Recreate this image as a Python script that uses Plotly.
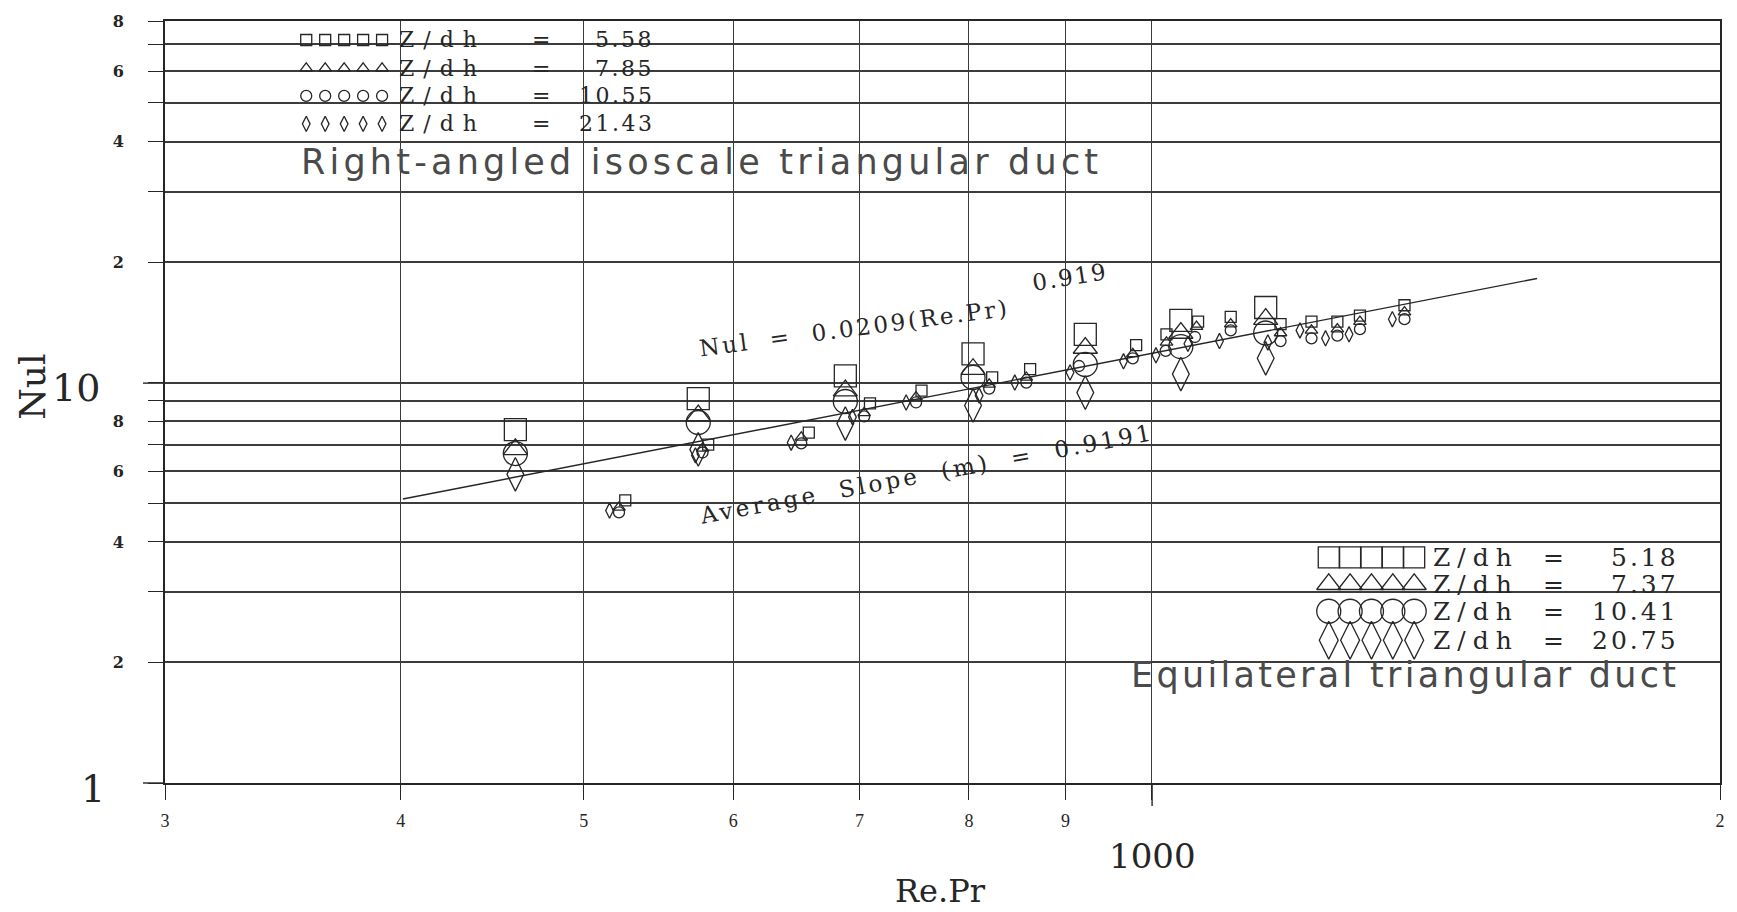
import numpy as np
import plotly.graph_objects as go

# ---------------- data ----------------
# Equilateral triangular duct (large markers)
eq_x = [460, 575, 688, 804, 922, 1036, 1149]
eq_nu_518 = [7.63, 9.12, 10.4, 11.8, 13.2, 14.3, 15.4]     # Z/dh = 5.18
eq_nu_737 = [6.81, 8.27, 9.55, 10.8, 12.2, 13.3, 14.4]     # Z/dh = 7.37
eq_nu_1041 = [6.65, 7.95, 8.97, 10.3, 11.1, 12.3, 13.3]    # Z/dh = 10.41
eq_nu_2075 = [5.90, 6.81, 7.90, 8.77, 9.44, 10.5, 11.5]    # Z/dh = 20.75

# Right-angled isosceles triangular duct (small markers)
ra_x_558 = [526, 582, 658, 709, 755, 823, 862, 981, 1018, 1058, 1101, 1170, 1215, 1254, 1289, 1361]
ra_nu_558 = [5.08, 7.0, 7.5, 8.87, 9.55, 10.3, 10.8, 12.4, 13.2, 14.2, 14.6, 14.0, 14.2, 14.2, 14.7, 15.6]
ra_x_785 = [522, 578, 652, 704, 750, 820, 858, 977, 1018, 1056, 1101, 1170, 1215, 1254, 1289, 1361]
ra_nu_785 = [4.88, 6.85, 7.3, 8.4, 9.2, 9.9, 10.3, 11.8, 12.6, 13.8, 14.0, 13.3, 13.5, 13.6, 14.2, 15.0]
ra_x_1055 = [522, 578, 652, 704, 750, 820, 858, 915, 977, 1017, 1054, 1101, 1170, 1215, 1254, 1289, 1361]
ra_nu_1055 = [4.74, 6.69, 7.05, 8.23, 8.92, 9.66, 10.0, 11.0, 11.5, 12.0, 13.0, 13.5, 12.7, 12.9, 13.1, 13.6, 14.4]
ra_x_2143 = [516, 573, 644, 694, 741, 810, 846, 905, 966, 1005, 1045, 1086, 1152, 1198, 1236, 1272, 1341]
ra_nu_2143 = [4.79, 6.58, 7.08, 8.2, 8.92, 9.28, 10.0, 10.6, 11.3, 11.7, 12.5, 12.7, 12.6, 13.5, 12.9, 13.2, 14.4]

# correlation line  Nul = 0.0209 (Re.Pr)^0.919  (end points)
fit_x = [401, 1600]
fit_nu = [5.12, 18.2]

# axis ticks
x_tickvals = [300, 400, 500, 600, 700, 800, 900, 1000, 2000]
x_ticktext = ["3", "4", "5", "6", "7", "8", "9", "", "2"]
y_tickvals = [1, 2, 3, 4, 5, 6, 7, 8, 9, 10, 20, 30, 40, 50, 60, 70, 80]
y_ticktext = ["", "2", "", "4", "", "6", "", "8", "", "", "2", "", "4", "", "6", "", "8"]

ra_labels = ["5.58", "7.85", "10.55", "21.43"]
eq_labels = ["5.18", "7.37", "10.41", "20.75"]

# ---------------- layout helpers ----------------
W_PAGE, H_PAGE = 1737, 912
L, R, T, B = 165, 14, 20, 129
PW = W_PAGE - L - R
PH = H_PAGE - T - B


def px(x):
    return x - L


def py(y):
    return (H_PAGE - B) - y


def fx(x):  # page pixel -> paper fraction
    return (x - L) / PW


def fy(y):
    return ((H_PAGE - B) - y) / PH


INK = "#262626"
GRID = "#3c3c3c"
SERIF = "DejaVu Serif"
PLOTTER = "DejaVu Sans"

symbols = ["square-open", "triangle-up-open", "circle-open", "diamond-tall-open"]
big_sizes = [22, 21, 24, 24]
small_sizes = [11, 11, 11, 11]


def mk(symbol, size):
    return dict(symbol=symbol, size=size, color=INK, line=dict(color=INK, width=1.3))


fig = go.Figure()

# fit line
fig.add_trace(go.Scatter(x=fit_x, y=fit_nu, mode="lines",
                         line=dict(color=INK, width=1.4), hoverinfo="skip"))

# equilateral (large)
for ys, sym, sz, lab in zip([eq_nu_518, eq_nu_737, eq_nu_1041, eq_nu_2075],
                            symbols, big_sizes, eq_labels):
    fig.add_trace(go.Scatter(x=eq_x, y=ys, mode="markers", marker=mk(sym, sz),
                             name="Equilateral Z/dh = " + lab, cliponaxis=False))

# right-angled (small)
for xs, ys, sym, sz, lab in zip([ra_x_558, ra_x_785, ra_x_1055, ra_x_2143],
                                [ra_nu_558, ra_nu_785, ra_nu_1055, ra_nu_2143],
                                symbols, small_sizes, ra_labels):
    fig.add_trace(go.Scatter(x=xs, y=ys, mode="markers", marker=mk(sym, sz),
                             name="Right-angled Z/dh = " + lab, cliponaxis=False))

# ---- legend symbol rows (pixel overlay axes) ----
leg1_rows = [39, 67.5, 95, 123]
leg1_x = [306.5 + 19.0 * i for i in range(5)]
for row_y, sym, sz in zip(leg1_rows, symbols, small_sizes):
    fig.add_trace(go.Scatter(x=[px(v) for v in leg1_x], y=[py(row_y)] * 5,
                             xaxis="x2", yaxis="y2", mode="markers",
                             marker=mk(sym, sz), hoverinfo="skip", cliponaxis=False))

leg2_rows = [557, 584, 611, 640]
leg2_x = [1331 + 21.4 * i for i in range(5)]
for row_y, sym, sz in zip(leg2_rows, symbols, [21, 21, 24, 27]):
    fig.add_trace(go.Scatter(x=[px(v) for v in leg2_x], y=[py(row_y)] * 5,
                             xaxis="x2", yaxis="y2", mode="markers",
                             marker=mk(sym, sz), hoverinfo="skip", cliponaxis=False))

annotations = []


def ann(text, x, y, size, family=SERIF, xanchor="center", yanchor="middle",
        angle=0, color=INK, spacing=0):
    if spacing:
        text = '<span style="letter-spacing:%.1fpx">%s</span>' % (spacing, text)
    annotations.append(dict(text=text, x=fx(x), y=fy(y), xref="paper", yref="paper",
                            xanchor=xanchor, yanchor=yanchor, showarrow=False,
                            textangle=angle,
                            font=dict(family=family, size=size, color=color)))


# legend 1 texts
for row_y, lab in zip(leg1_rows, ra_labels):
    ann("Z/dh", 397, row_y, 22, xanchor="left", spacing=9)
    ann("=", 542, row_y, 22)
    ann(lab, 657, row_y, 22, xanchor="right", spacing=2.5)
ann("Right-angled isoscale triangular duct", 299, 161, 35,
    family=PLOTTER, xanchor="left", color="#4a4a4a", spacing=4.2)

# legend 2 texts
for row_y, lab in zip(leg2_rows, eq_labels):
    ann("Z/dh", 1433, row_y, 25, xanchor="left", spacing=7)
    ann("=", 1556, row_y, 25)
    ann(lab, 1684, row_y, 25, xanchor="right", spacing=3)
ann("Equilateral triangular duct", 1684, 675, 35,
    family=PLOTTER, xanchor="right", color="#4a4a4a", spacing=3.3)

# equation texts
ann("Nul  =  0.0209(Re.Pr)", 856, 327, 23, angle=-7.5, spacing=2.8)
ann("0.919", 1072, 276, 23, angle=-9, spacing=2)
ann("Average  Slope  (m)  =  0.9191", 928, 474, 23, angle=-10.5, spacing=3.4)

# big axis labels
ann("10", 76, 387, 38)
ann("1", 93, 789, 38)
ann("1000", 1154, 856, 34)
ann("Nul", 32, 386, 36, angle=-90)
ann("Re.Pr", 942, 891, 32)

# longer major ticks
shapes = []
for yv in [783, 382.6]:
    shapes.append(dict(type="line", xref="paper", yref="paper", x0=fx(143), x1=fx(165),
                       y0=fy(yv), y1=fy(yv), line=dict(color=INK, width=1.4)))
shapes.append(dict(type="line", xref="paper", yref="paper", x0=fx(1154), x1=fx(1154),
                   y0=fy(783), y1=fy(806), line=dict(color=INK, width=1.4)))

fig.update_layout(
    width=W_PAGE, height=H_PAGE,
    margin=dict(l=L, r=R, t=T, b=B, pad=0),
    paper_bgcolor="white", plot_bgcolor="white",
    showlegend=False,
    xaxis=dict(type="log", range=[np.log10(300), np.log10(2000)],
               tickmode="array", tickvals=x_tickvals, ticktext=x_ticktext,
               ticks="outside", ticklen=15, tickwidth=1.2, tickcolor=INK,
               showgrid=True, gridcolor=GRID, gridwidth=1.2,
               showline=True, linecolor=INK, linewidth=1.6, mirror=True,
               zeroline=False, ticklabelstandoff=6,
               tickfont=dict(family="Liberation Serif", size=18, color=INK)),
    yaxis=dict(type="log", range=[0, np.log10(80)],
               tickmode="array", tickvals=y_tickvals, ticktext=y_ticktext,
               ticks="outside", ticklen=15, tickwidth=1.4, tickcolor=INK,
               showgrid=True, gridcolor=GRID, gridwidth=1.6,
               showline=True, linecolor=INK, linewidth=1.6, mirror=True,
               zeroline=False, ticklabelstandoff=21,
               tickfont=dict(family=SERIF, size=16, color=INK, weight="bold")),
    xaxis2=dict(overlaying="x", range=[0, PW], visible=False, fixedrange=True),
    yaxis2=dict(overlaying="y", range=[0, PH], visible=False, fixedrange=True),
    annotations=annotations,
    shapes=shapes,
)

fig.write_html("out.html")
